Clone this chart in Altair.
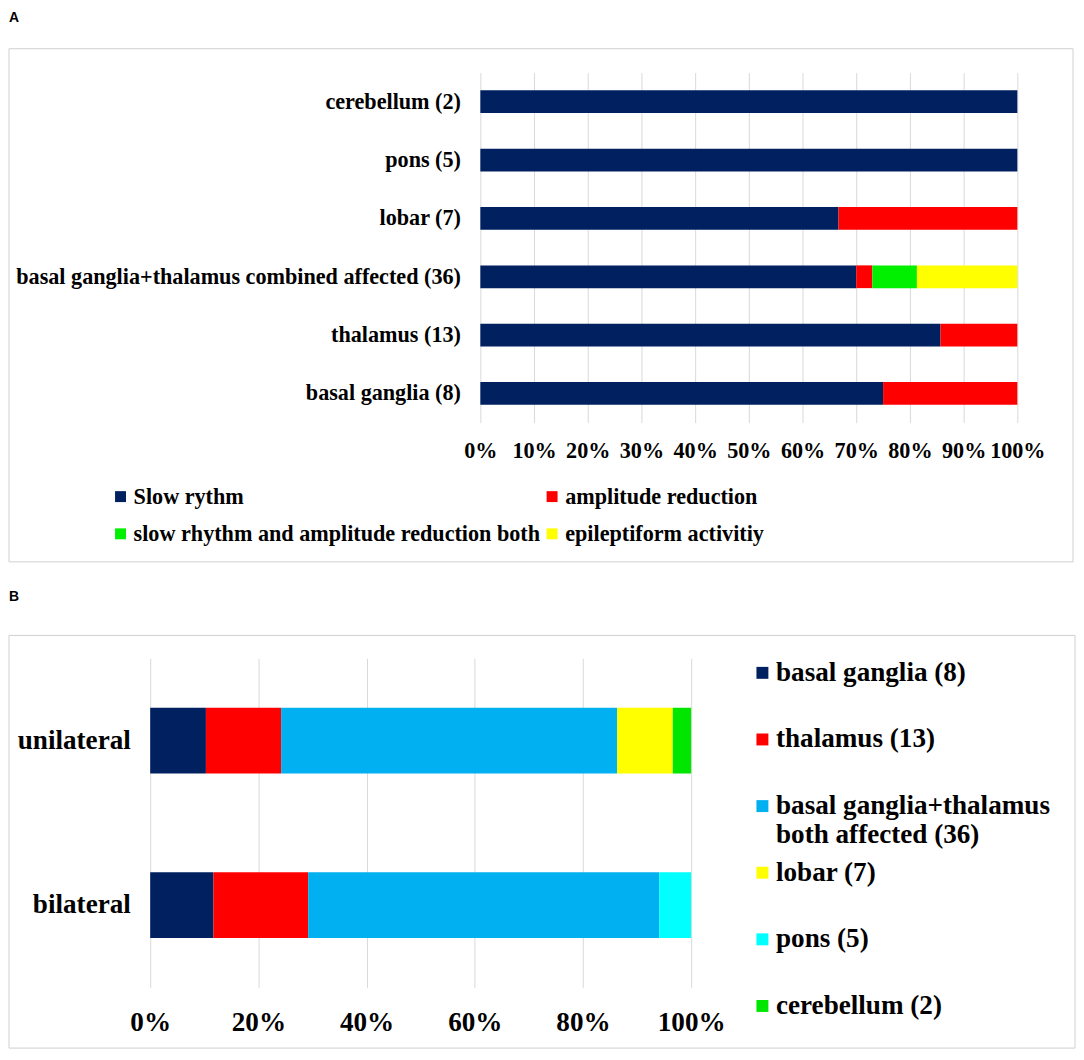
import altair as alt
import pandas as pd

# ---------------- Panel A data ----------------
a_regions = [
    "cerebellum (2)",
    "pons (5)",
    "lobar (7)",
    "basal ganglia+thalamus combined affected (36)",
    "thalamus (13)",
    "basal ganglia (8)",
]
a_series = [
    "Slow rythm",
    "amplitude reduction",
    "slow rhythm and amplitude reduction both",
    "epileptiform activitiy",
]
a_slow = [100, 100, 66.7, 70.0, 85.7, 75.0]
a_amp = [0, 0, 33.3, 3.0, 14.3, 25.0]
a_both = [0, 0, 0, 8.3, 0, 0]
a_epi = [0, 0, 0, 18.7, 0, 0]
a_colors = ["#002060", "#FF0000", "#00F000", "#FFFF00"]
a_ticks = [0, 10, 20, 30, 40, 50, 60, 70, 80, 90, 100]

# ---------------- Panel B data ----------------
b_sides = ["unilateral", "bilateral"]
b_series = [
    "basal ganglia (8)",
    "thalamus (13)",
    "basal ganglia+thalamus both affected (36)",
    "lobar (7)",
    "pons (5)",
    "cerebellum (2)",
]
b_bg = [10.3, 11.7]
b_th = [13.9, 17.5]
b_both = [62.1, 64.9]
b_lobar = [10.3, 0]
b_pons = [0, 5.9]
b_cereb = [3.4, 0]
b_colors = ["#002060", "#FF0000", "#00B0F0", "#FFFF00", "#00FFFF", "#00E600"]
b_ticks = [0, 20, 40, 60, 80, 100]

SERIF = "Liberation Serif"
SANS = "Liberation Sans"
GRID = "#D9D9D9"


def long_table(cats, cat_name, series, columns):
    rows = []
    for si, (s, vals) in enumerate(zip(series, columns)):
        for c, v in zip(cats, vals):
            if v > 0:
                rows.append({cat_name: c, "series": s, "idx": si, "value": v})
    return pd.DataFrame(rows)


df_a = long_table(a_regions, "region", a_series, [a_slow, a_amp, a_both, a_epi])
df_b = long_table(b_sides, "side", b_series, [b_bg, b_th, b_both, b_lobar, b_pons, b_cereb])


def frame(x1, x2, y1, y2):
    return alt.Chart(pd.DataFrame({"k": [0]})).mark_rect(
        fill="#ffffff", fillOpacity=0, stroke="#D0D0D0", strokeWidth=1
    ).encode(x=alt.value(x1), x2=alt.value(x2), y=alt.value(y1), y2=alt.value(y2))


def panel_label(txt, x, y):
    return alt.Chart(pd.DataFrame({"t": [txt]})).mark_text(
        align="left", baseline="alphabetic", font=SANS, fontSize=14,
        fontWeight="bold", color="#000000"
    ).encode(text="t:N", x=alt.value(x), y=alt.value(y))


# Both panels share the same plot origin (x = 0); panel A's bars are shifted
# to the right inside its view through the x scale range.
A_X0, A_X1 = 332, 872

# ---------------- Panel A chart ----------------
FS_A = 22.3
bars_a = alt.Chart(df_a).mark_bar().encode(
    x=alt.X(
        "value:Q", stack="zero",
        scale=alt.Scale(domain=[0, 100], nice=False, range=[A_X0, A_X1]),
        axis=alt.Axis(
            values=a_ticks, labelExpr="datum.value + '%'", title=None,
            grid=True, gridColor=GRID, domain=False, ticks=False,
            labelPadding=17, labelFont=SERIF, labelFontSize=FS_A,
            labelFontWeight="bold", labelColor="#000000", labelFlush=False,
            labelOverlap=False,
        ),
    ),
    y=alt.Y(
        "region:N", sort=a_regions,
        scale=alt.Scale(paddingInner=0.61, paddingOuter=0.305),
        axis=alt.Axis(
            title=None, domain=False, ticks=False, labelPadding=20,
            offset=-A_X0,
            labelFont=SERIF, labelFontSize=FS_A, labelFontWeight="bold",
            labelColor="#000000", labelLimit=700,
        ),
    ),
    color=alt.Color(
        "series:N",
        scale=alt.Scale(domain=a_series, range=a_colors),
        legend=alt.Legend(
            title=None, orient="none", legendX=-41, legendY=415, columns=2,
            direction="horizontal",
            symbolType="square", symbolSize=121, symbolStrokeWidth=0,
            symbolOpacity=1, labelFont=SERIF, labelFontSize=FS_A,
            labelFontWeight="bold", labelColor="#000000", labelLimit=700,
            labelOffset=2, columnPadding=0, rowPadding=14.7, padding=0,
        ),
    ),
    order=alt.Order("idx:Q"),
)

panel_a = alt.layer(
    frame(-142, 928, -24, 492),
    panel_label("A", -142, -51),
    bars_a,
).properties(width=A_X1, height=352)

# ---------------- Panel B chart ----------------
FS_B = 27.3
bars_b = alt.Chart(df_b).mark_bar().encode(
    x=alt.X(
        "value:Q", stack="zero",
        scale=alt.Scale(domain=[0, 100], nice=False),
        axis=alt.Axis(
            values=b_ticks, labelExpr="datum.value + '%'", title=None,
            grid=True, gridColor=GRID, domain=False, ticks=False,
            labelPadding=21, labelFont=SERIF, labelFontSize=FS_B,
            labelFontWeight="bold", labelColor="#000000", labelFlush=False,
            labelOverlap=False,
        ),
    ),
    y=alt.Y(
        "side:N", sort=b_sides,
        scale=alt.Scale(paddingInner=0.6, paddingOuter=0.3),
        axis=alt.Axis(
            title=None, domain=False, ticks=False, labelPadding=20,
            labelFont=SERIF, labelFontSize=FS_B, labelFontWeight="bold",
            labelColor="#000000", labelLimit=400,
        ),
    ),
    color=alt.Color(
        "series:N",
        scale=alt.Scale(domain=b_series, range=b_colors),
        legend=alt.Legend(
            title=None, orient="none", legendX=602, legendY=1,
            direction="vertical", gridAlign="all",
            symbolType="square", symbolSize=144, symbolStrokeWidth=0,
            symbolOpacity=1, labelFont=SERIF, labelFontSize=FS_B,
            labelFontWeight="bold", labelColor="#000000", labelLimit=700,
            labelOffset=0, rowPadding=9.0, padding=0,
            labelExpr="datum.label == 'basal ganglia+thalamus both affected (36)' ? ['basal ganglia+thalamus', 'both affected (36)'] : datum.label",
        ),
    ),
    order=alt.Order("idx:Q"),
)

panel_b = alt.layer(
    frame(-142, 930, -23, 392),
    panel_label("B", -142, -58),
    bars_b,
).properties(width=544, height=331)

chart = alt.vconcat(panel_a, panel_b, spacing=27).resolve_scale(
    color="independent", x="independent", y="independent"
).resolve_legend(color="independent").properties(
    padding=0, background="#ffffff"
).configure_view(strokeWidth=0)

chart.save("out.html", embed_options={"renderer": "svg", "actions": False})
